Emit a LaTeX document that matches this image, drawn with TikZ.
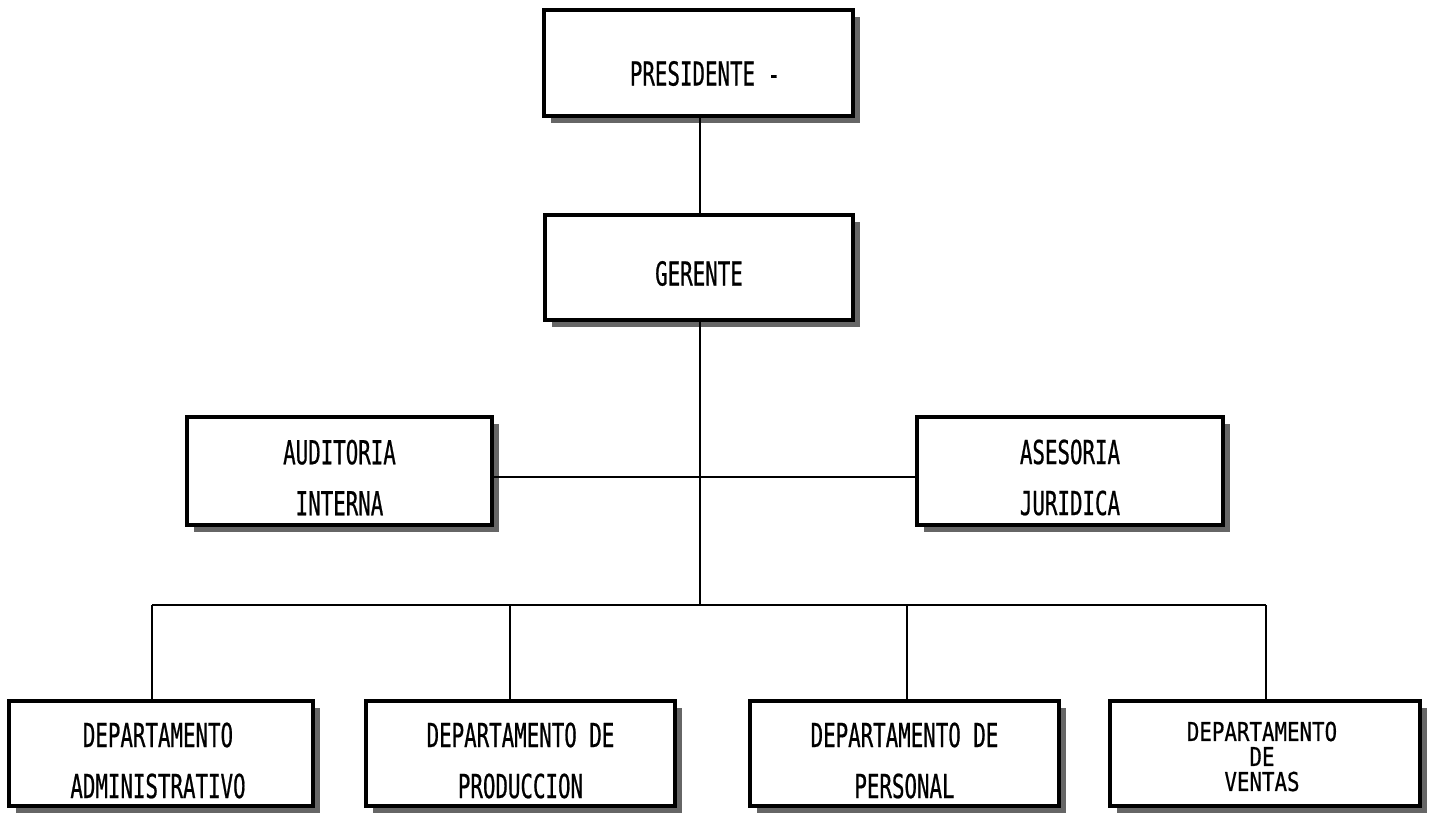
\documentclass[tikz,border=0pt]{standalone}
\usepackage{fontspec}
\newfontfamily\orgfont[FakeStretch=0.63,FakeBold=0.6]{DejaVu Sans Mono}
\newfontfamily\orgfontwide[FakeStretch=0.8,FakeBold=0.6]{DejaVu Sans Mono}
\usetikzlibrary{shadows}
\tikzset{
  orgbox/.style={draw=black, line width=4pt, fill=white, inner sep=0pt, outer sep=0pt,
    drop shadow={shadow xshift=7pt, shadow yshift=-7pt, fill=black!60, opacity=1}},
  orglabel/.style={font=\orgfont\fontsize{33}{51}\selectfont, align=center, inner sep=0pt},
  tightlabel/.style={font=\orgfontwide\fontsize{26}{25}\selectfont, align=center, inner sep=0pt},
  link/.style={draw=black, line width=2.2pt}
}
\begin{document}
\begin{tikzpicture}[x=1pt, y=-1pt]
\useasboundingbox (0,0) rectangle (1437,822);
% boxes
\node[orgbox, minimum width=309pt, minimum height=106pt] (pres) at (698.5,63) {};
\node[orgbox, minimum width=308pt, minimum height=105pt] (ger) at (699,267.5) {};
\node[orgbox, minimum width=305pt, minimum height=108pt] (aud) at (339.5,471) {};
\node[orgbox, minimum width=306pt, minimum height=108pt] (ase) at (1070,471) {};
\node[orgbox, minimum width=304pt, minimum height=105pt] (adm) at (161,753.5) {};
\node[orgbox, minimum width=309pt, minimum height=105pt] (prod) at (520.5,753.5) {};
\node[orgbox, minimum width=309pt, minimum height=105pt] (pers) at (904.5,753.5) {};
\node[orgbox, minimum width=310pt, minimum height=105pt] (ven) at (1265,753.5) {};
% labels
\node[orglabel] (tpres) at (705,73.5) {PRESIDENTE -};
\node[orglabel] (tger) at (699,273.5) {GERENTE};
\node[orglabel] (taud) at (339.5,477.5) {AUDITORIA\\INTERNA};
\node[orglabel] (tase) at (1070,477.5) {ASESORIA\\JURIDICA};
\node[orglabel] (tadm) at (158,760.5) {DEPARTAMENTO\\ADMINISTRATIVO};
\node[orglabel] (tprod) at (520.5,760.5) {DEPARTAMENTO DE\\PRODUCCION};
\node[orglabel] (tpers) at (904.5,760.5) {DEPARTAMENTO DE\\PERSONAL};
\node[tightlabel] (tven) at (1262,756.5) {DEPARTAMENTO\\DE\\VENTAS};
% connector points
\coordinate (top) at (700,0);
\coordinate (mid) at (700,477);
\coordinate (bus) at (700,605);
\coordinate (d1) at (152,605);
\coordinate (d2) at (510,605);
\coordinate (d3) at (907,605);
\coordinate (d4) at (1266,605);
% connectors
\draw[link] (top |- pres.south) -- (top |- ger.north);
\draw[link] (top |- ger.south) -- (bus);
\draw[link] (aud.east |- mid) -- (ase.west |- mid);
\draw[link] (d1) -- (d4);
\draw[link] (d1) -- (d1 |- adm.north);
\draw[link] (d2) -- (d2 |- prod.north);
\draw[link] (d3) -- (d3 |- pers.north);
\draw[link] (d4) -- (d4 |- ven.north);
\end{tikzpicture}
\end{document}
